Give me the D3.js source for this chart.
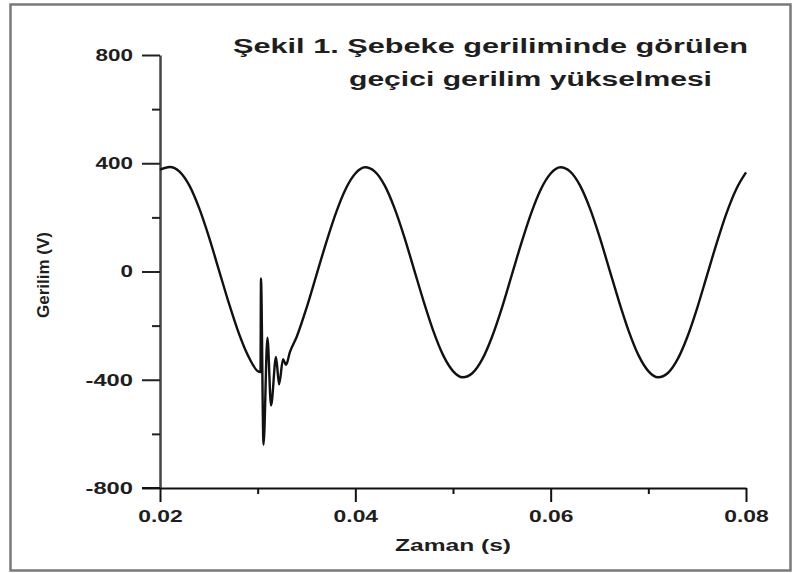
<!doctype html>
<html lang="tr">
<head>
  <meta charset="utf-8">
  <title>Şekil 1 - Şebeke gerilimi</title>
  <style>
  body{
    margin: 0;
    background: #fff;
  }
  text{
    font-family: "Liberation Sans", Helvetica, Arial, sans-serif;
    font-weight: bold;
    fill: #1e1e1e;
  }
  </style>
  <script src="https://d3js.org/d3.v7.min.js"></script>
</head>
<body>
  <div id="area1"></div>
  <script>
  // time (s) and voltage (V)
  var timeVals = [0.020, 0.021, 0.022, 0.023, 0.024, 0.025, 0.026, 0.027, 0.028, 0.029, 0.030,
    0.03029, 0.03034, 0.0306, 0.0310, 0.03137, 0.03188, 0.03219, 0.0326, 0.0329, 0.0333,
    0.034, 0.035, 0.036, 0.037, 0.038, 0.039, 0.040, 0.041, 0.042, 0.043, 0.044, 0.045,
    0.046, 0.047, 0.048, 0.049, 0.050, 0.051, 0.052, 0.053, 0.054, 0.055, 0.056, 0.057,
    0.058, 0.059, 0.060, 0.061, 0.062, 0.063, 0.064, 0.065, 0.066, 0.067, 0.068, 0.069,
    0.070, 0.071, 0.072, 0.073, 0.074, 0.075, 0.076, 0.077, 0.078, 0.079, 0.080];
  var voltVals = [376, 386, 369, 318, 235, 129, 9, -111, -221, -310, -368,
    -372, -26, -640, -245, -495, -316, -417, -324, -345, -298,
    -241, -135, -15, 105, 215, 304, 362, 385, 369, 318, 235, 129,
    9, -111, -221, -310, -368, -391, -375, -324, -241, -135, -15, 105,
    215, 304, 362, 385, 369, 318, 235, 129, 9, -111, -221, -310,
    -368, -391, -375, -324, -241, -135, -15, 105, 215, 304, 366];

  var yMajor = [-800, -400, 0, 400, 800];
  var yMinor = [-600, -200, 200, 600];
  var xMajor = [0.02, 0.04, 0.06, 0.08];
  var xMinor = [0.03, 0.05, 0.07];

  var titleLines = ["Şekil 1. Şebeke geriliminde görülen", "geçici gerilim yükselmesi"];
  var xLabel = "Zaman (s)";
  var yLabel = "Gerilim (V)";

  var data = timeVals.map(function(t, i) { return {t: t, v: voltVals[i]}; });

  var W = 801, H = 573;
  var svg = d3.select('#area1').append('svg')
    .attr('width', W)
    .attr('height', H);

  // outer frame
  svg.append('rect')
    .attr('x', 10.5).attr('y', 4.5)
    .attr('width', 780).attr('height', 566)
    .attr('fill', 'none')
    .attr('stroke', '#7a7a7a')
    .attr('stroke-width', 2.5);

  var x = d3.scaleLinear().domain([0.02, 0.08]).range([160, 746]);
  var y = d3.scaleLinear().domain([-800, 800]).range([488, 55]);

  // plain hyphen for negatives, like the original
  var yFmt = function(d) { return String(d); };
  var xFmt = d3.format('.2f');

  // the figure text is stretched wide, so size it by width
  function labelWidth(s) {
    var w = 0;
    for (var i = 0; i < s.length; i++) {
      var c = s[i];
      if (c == '.') w += 7;
      else if (c == '-') w += 10;
      else w += 12.5;
    }
    return w;
  }

  // y axis
  var yAxis = svg.append('g')
    .attr('transform', 'translate(160,0)')
    .call(d3.axisLeft(y).tickValues(yMajor).tickSize(18).tickSizeOuter(0).tickPadding(9)
      .tickFormat(yFmt));
  yAxis.select('.domain').attr('stroke', '#444').attr('stroke-width', 2.5);
  yAxis.selectAll('.tick line').attr('stroke', '#222').attr('stroke-width', 2);
  yAxis.selectAll('text')
    .attr('font-size', 17)
    .attr('font-family', null)
    .attr('fill', null)
    .attr('textLength', function(d) { return labelWidth(yFmt(d)); })
    .attr('lengthAdjust', 'spacingAndGlyphs');

  svg.append('g')
    .attr('transform', 'translate(160,0)')
    .call(d3.axisLeft(y).tickValues(yMinor).tickSize(8).tickFormat(''))
    .call(function(g) { g.select('.domain').remove(); })
    .selectAll('.tick line').attr('stroke', '#222').attr('stroke-width', 2);

  // x axis
  var xAxis = svg.append('g')
    .attr('transform', 'translate(0,488)')
    .call(d3.axisBottom(x).tickValues(xMajor).tickSize(14).tickSizeOuter(0).tickPadding(8)
      .tickFormat(xFmt));
  xAxis.select('.domain').attr('stroke', '#111').attr('stroke-width', 2);
  xAxis.selectAll('.tick line').attr('stroke', '#111').attr('stroke-width', 2);
  xAxis.selectAll('text')
    .attr('font-size', 17)
    .attr('font-family', null)
    .attr('fill', null)
    .attr('textLength', function(d) { return labelWidth(xFmt(d)); })
    .attr('lengthAdjust', 'spacingAndGlyphs');

  svg.append('g')
    .attr('transform', 'translate(0,488)')
    .call(d3.axisBottom(x).tickValues(xMinor).tickSize(6).tickFormat(''))
    .call(function(g) { g.select('.domain').remove(); })
    .selectAll('.tick line').attr('stroke', '#111').attr('stroke-width', 2);

  // -800 tick carries the x axis line a bit to the left
  svg.append('line')
    .attr('x1', 142).attr('x2', 160)
    .attr('y1', y(-800)).attr('y2', y(-800))
    .attr('stroke', '#111').attr('stroke-width', 2);

  // voltage curve
  var line = d3.line()
    .x(function(d) { return x(d.t); })
    .y(function(d) { return y(d.v); })
    .curve(d3.curveMonotoneX);

  svg.append('path')
    .datum(data)
    .attr('d', line)
    .attr('fill', 'none')
    .attr('stroke', '#111')
    .attr('stroke-width', 2.4)
    .attr('stroke-linejoin', 'round');

  // title
  svg.append('text')
    .attr('x', 233).attr('y', 53)
    .attr('font-size', 20)
    .attr('textLength', 515)
    .attr('lengthAdjust', 'spacingAndGlyphs')
    .text(titleLines[0]);
  svg.append('text')
    .attr('x', 349).attr('y', 86)
    .attr('font-size', 20)
    .attr('textLength', 363)
    .attr('lengthAdjust', 'spacingAndGlyphs')
    .text(titleLines[1]);

  // axis labels
  svg.append('text')
    .attr('x', 395).attr('y', 551)
    .attr('font-size', 16)
    .attr('textLength', 116)
    .attr('lengthAdjust', 'spacingAndGlyphs')
    .text(xLabel);

  svg.append('text')
    .attr('transform', 'translate(49,318) rotate(-90)')
    .attr('font-size', 17)
    .attr('textLength', 86)
    .attr('lengthAdjust', 'spacingAndGlyphs')
    .text(yLabel);
  </script>
</body>
</html>
